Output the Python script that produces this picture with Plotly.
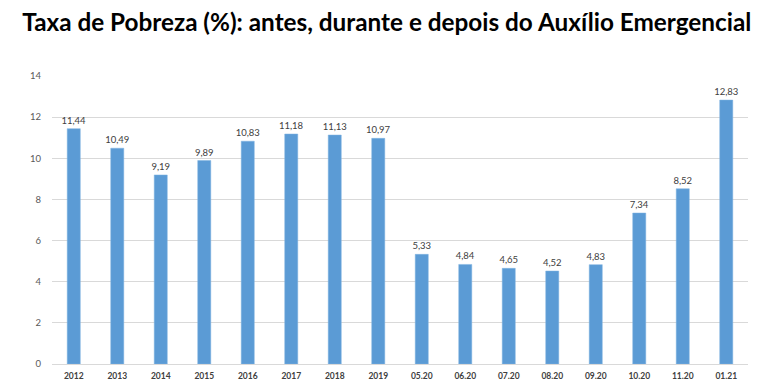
import plotly.graph_objects as go

categories = ["2012", "2013", "2014", "2015", "2016", "2017", "2018", "2019",
              "05.20", "06.20", "07.20", "08.20", "09.20", "10.20", "11.20", "01.21"]
values = [11.44, 10.49, 9.19, 9.89, 10.83, 11.18, 11.13, 10.97,
          5.33, 4.84, 4.65, 4.52, 4.83, 7.34, 8.52, 12.83]
labels = [f"{v:.2f}".replace(".", ",") for v in values]
y_ticks = [0, 2, 4, 6, 8, 10, 12, 14]

fig = go.Figure(go.Bar(
    x=categories, y=values, text=labels, textposition="outside",
    constraintext="none",
    textfont=dict(size=9.5, color="#404040", family="Lato"),
    marker=dict(color="#5B9BD5", line=dict(color="#7FB2E0", width=0.5)),
    cliponaxis=False,
))

fig.update_layout(
    width=773, height=379,
    margin=dict(l=44, r=33, t=68, b=23),
    paper_bgcolor="white", plot_bgcolor="white",
    bargap=0.70,
    showlegend=False,
    title=dict(text="<b>Taxa de Pobreza (%): antes, durante e depois do Auxílio Emergencial</b>",
               x=0.49, xanchor="center", y=0.963, yanchor="middle",
               font=dict(family="Lato", size=24.3, color="black")),
    xaxis=dict(tickfont=dict(size=8.5, color="#404040", family="Lato"),
               showgrid=False, showline=True, linecolor="#d9d9d9", linewidth=1,
               ticks="", tickprefix="<b>", ticksuffix="</b>", ticklabelstandoff=4,
               automargin=False),
    yaxis=dict(range=[0, 14], tickvals=y_ticks, tickfont=dict(size=9.5, color="#595959", family="Lato"),
               showgrid=True, gridcolor="#d9d9d9", gridwidth=1, zeroline=False,
               showline=False, ticks="", ticklabelstandoff=10, automargin=False),
)

fig.write_html("out.html")
